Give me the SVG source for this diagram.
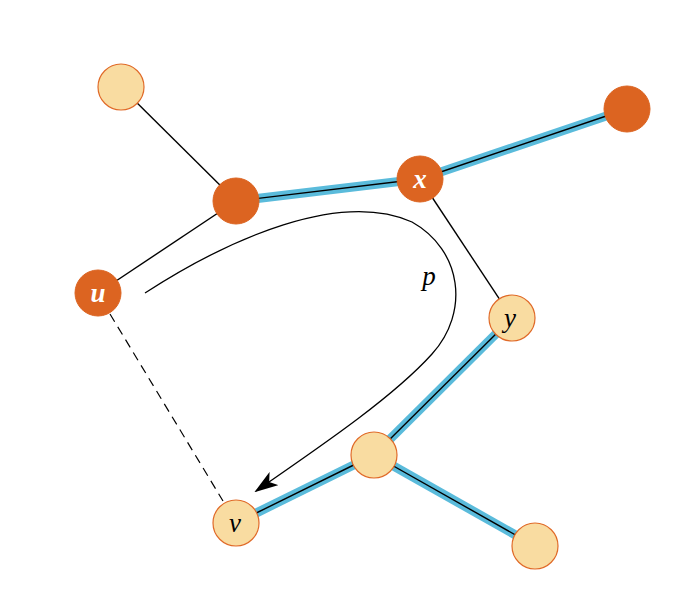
<svg xmlns="http://www.w3.org/2000/svg" width="698" height="592" viewBox="0 0 698 592">
<defs>
<style>
.hl{stroke:#5ABBDB;stroke-width:9;fill:none}
.e{stroke:#000;stroke-width:1.4;fill:none}
.dk{fill:#DC6421;stroke:#DC6421;stroke-width:1}
.lt{fill:#F9DCA1;stroke:#E06A28;stroke-width:1.2}
.lw{font-family:"Liberation Serif",serif;font-style:italic;font-weight:bold;font-size:27px;fill:#fff;text-anchor:middle}
.lb{font-family:"Liberation Serif",serif;font-style:italic;font-size:27px;fill:#000;text-anchor:middle}
</style>
<marker id="ar" viewBox="0 0 24 16" refX="22" refY="8" markerWidth="24" markerHeight="16" markerUnits="userSpaceOnUse" orient="auto">
<path d="M0,0 L24,8 L0,16 L6,8 Z" fill="#000"/>
</marker>
</defs>
<rect width="698" height="592" fill="#fff"/>
<g id="connectors">
<line class="hl" x1="236" y1="201" x2="420" y2="179"/>
<line class="hl" x1="420" y1="179" x2="627" y2="109"/>
<line class="hl" x1="512" y1="318" x2="374" y2="455"/>
<line class="hl" x1="374" y1="455" x2="236" y2="523"/>
<line class="hl" x1="374" y1="455" x2="535" y2="546"/>
<line class="e" x1="121" y1="87" x2="236" y2="201"/>
<line class="e" x1="236" y1="201" x2="420" y2="179"/>
<line class="e" x1="420" y1="179" x2="627" y2="109"/>
<line class="e" x1="236" y1="201" x2="98" y2="293"/>
<line class="e" x1="420" y1="179" x2="512" y2="318"/>
<line class="e" x1="512" y1="318" x2="374" y2="455"/>
<line class="e" x1="374" y1="455" x2="236" y2="523"/>
<line class="e" x1="374" y1="455" x2="535" y2="546"/>
<line x1="110" y1="314" x2="223" y2="501" stroke="#000" stroke-width="1.2" stroke-dasharray="9,6"/>
<path d="M145,293 C230,238 340,190 412,222 C462,250 470,312 432,354 C395,395 330,440 256,491" fill="none" stroke="#000" stroke-width="1.3" marker-end="url(#ar)"/>
<text class="lb" x="429" y="285">p</text>
</g>
<g id="n-a"><circle class="lt" cx="121" cy="87" r="23"/></g>
<g id="n-b"><circle class="dk" cx="236" cy="201" r="23"/></g>
<g id="n-x"><circle class="dk" cx="420" cy="179" r="23"/><text class="lw" x="420" y="188">x</text></g>
<g id="n-tr"><circle class="dk" cx="627" cy="109" r="23"/></g>
<g id="n-u"><circle class="dk" cx="98" cy="293" r="23"/><text class="lw" x="98" y="302">u</text></g>
<g id="n-y"><circle class="lt" cx="512" cy="318" r="23"/><text class="lb" x="510" y="327">y</text></g>
<g id="n-m"><circle class="lt" cx="374" cy="455" r="23"/></g>
<g id="n-v"><circle class="lt" cx="236" cy="523" r="23"/><text class="lb" x="235" y="532">v</text></g>
<g id="n-br"><circle class="lt" cx="535" cy="546" r="23"/></g>
</svg>
